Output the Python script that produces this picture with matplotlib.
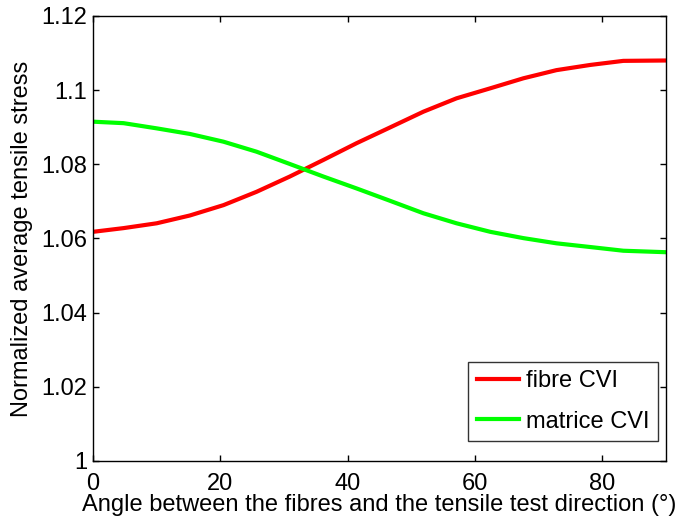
import numpy as np
import matplotlib
matplotlib.use('Agg')
import matplotlib.pyplot as plt

plt.rcParams['font.family'] = ['Liberation Sans', 'DejaVu Sans']

# angle (deg) and normalized stress
angle = [0, 4.8, 10.0, 15.2, 20.5, 25.7, 30.9, 36.2, 41.4,
         46.6, 51.9, 57.1, 62.4, 67.6, 72.8, 78.1, 83.3, 90]
fibre_cvi = [1.0618, 1.0628, 1.0641, 1.0662, 1.0690, 1.0726, 1.0767, 1.0812, 1.0857,
             1.0899, 1.0942, 1.0978, 1.1005, 1.1032, 1.1054, 1.1068, 1.1079, 1.1080]
matrice_cvi = [1.0915, 1.0911, 1.0897, 1.0882, 1.0861, 1.0834, 1.0801, 1.0767, 1.0735,
               1.0702, 1.0668, 1.0641, 1.0618, 1.0601, 1.0587, 1.0577, 1.0567, 1.0563]

xticks = [0, 20, 40, 60, 80]
yticks = [1, 1.02, 1.04, 1.06, 1.08, 1.1, 1.12]
yticklabels = ['1', '1.02', '1.04', '1.06', '1.08', '1.1', '1.12']

fig = plt.figure(figsize=(6.87, 5.16), dpi=100)
ax = fig.add_axes([0.1354, 0.1066, 0.834, 0.8624])

ax.plot(angle, fibre_cvi, color='#ff0000', lw=3, label='fibre CVI')
ax.plot(angle, matrice_cvi, color='#00ff00', lw=3, label='matrice CVI')

ax.set_xlim(0, 90)
ax.set_ylim(1, 1.12)
ax.set_xticks(xticks)
ax.set_yticks(yticks)
ax.set_yticklabels(yticklabels)
ax.tick_params(direction='in', length=4, width=1, top=True, right=True,
               labelsize=17)
ax.tick_params(axis='x', pad=9)
ax.tick_params(axis='y', pad=4)
for s in ax.spines.values():
    s.set_linewidth(1)

ax.set_xlabel('Angle between the fibres and the tensile test direction (°)',
              fontsize=17, labelpad=-1)
ax.set_ylabel('Normalized average tensile stress', fontsize=17, labelpad=6)

leg = ax.legend(loc='lower right', bbox_to_anchor=(0.986, 0.045),
                fontsize=17, frameon=True, fancybox=False, edgecolor='black',
                handlelength=1.8, handletextpad=0.3, labelspacing=0.8,
                borderpad=0.35, borderaxespad=0)
leg.get_frame().set_linewidth(1)

fig.savefig('out.png', dpi=100)
